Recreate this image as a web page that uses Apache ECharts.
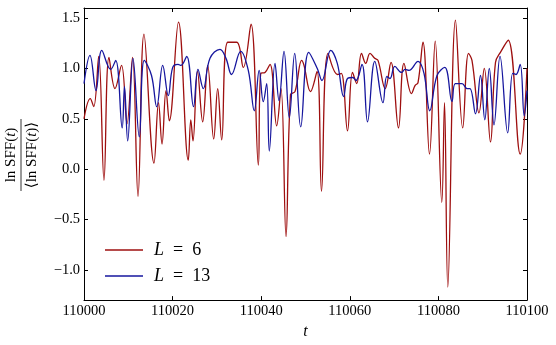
<!DOCTYPE html>
<html>
<head>
<meta charset="utf-8">
<script src="https://cdn.jsdelivr.net/npm/echarts@6/dist/echarts.min.js"></script>
<style>
  html, body { margin: 0; padding: 0; background: #fff; }
  #chart { width: 556px; height: 345px; }
</style>
</head>
<body>
<div id="chart"></div>
<script>
// axis ticks
const xTicks = [110000, 110020, 110040, 110060, 110080, 110100];
const yTicks = [-1.0, -0.5, 0.0, 0.5, 1.0, 1.5];
const seriesNames = ['L = 6', 'L = 13'];

// L = 6 (red)
const tL6 = [
  110000, 110001.42, 110002.19, 110003.32, 110004.51, 110005.64, 110007.00, 110008.47, 110009.71, 110010.95,
  110012.19, 110013.54, 110015.80, 110016.82, 110017.61, 110018.51, 110019.26, 110021.33, 110023.54, 110024.11,
  110024.60, 110025.62, 110026.79, 110027.92, 110029.28, 110030.18, 110031.08, 110032.44, 110034.47, 110035.96,
  110037.70, 110039.35, 110039.89, 110040.86, 110041.99, 110043.50, 110044.47, 110045.60, 110046.61, 110047.63,
  110049.14, 110049.66, 110051.13, 110052.60, 110053.61, 110055.08, 110057.22, 110058.08, 110059.48, 110060.61,
  110061.56, 110062.64, 110063.59, 110064.56, 110065.62, 110066.37, 110067.99, 110069.30, 110070.99, 110072.23,
  110073.93, 110074.72, 110075.40, 110076.52, 110077.99, 110079.28, 110080.77, 110081.38, 110082.12, 110083.86,
  110085.49, 110086.79, 110087.58, 110089.16, 110090.36, 110091.76, 110092.89, 110094.13, 110095.76, 110098.46,
  110100
];
const vL6 = [
  0.50, 0.70, 0.62, 1.12, -0.11, 1.11, 0.80, 1.03, 0.45, 1.11,
  -0.27, 1.34, 0.06, 0.66, 0.25, 0.78, 0.48, 1.46, 0.09, 0.49,
  0.28, 0.97, 0.47, 1.03, 0.30, 0.80, 0.29, 1.26, 1.26, 1.01,
  1.44, 0.04, 0.95, 0.96, 1.04, 0.43, 0.80, -0.67, 0.74, 0.77,
  1.08, 1.03, 0.77, 0.97, -0.22, 1.15, 0.94, 0.95, 0.38, 0.96,
  0.85, 1.15, 1.05, 1.15, 1.10, 1.08, 0.80, 1.06, 0.41, 1.05,
  0.75, 0.83, 0.86, 1.26, 0.15, 1.27, -0.33, 0.66, -1.17, 1.48,
  0.41, 1.15, 1.08, 0.56, 1.00, 0.27, 1.06, 1.17, 1.28, 0.15,
  1.00
];

// L = 13 (blue)
const tL13 = [
  110000, 110001.35, 110002.71, 110004.02, 110006.03, 110007.16, 110008.62, 110009.14, 110009.86, 110011.06,
  110012.48, 110013.61, 110015.24, 110016.41, 110017.77, 110019.03, 110020.02, 110021.22, 110021.90, 110023.18,
  110024.72, 110025.73, 110026.93, 110028.44, 110030.70, 110032.05, 110033.30, 110035.37, 110037.09, 110038.44,
  110039.55, 110040.47, 110041.24, 110041.83, 110043.12, 110044.02, 110045.15, 110046.34, 110047.56, 110048.92,
  110050.72, 110052.66, 110053.72, 110055.69, 110057.18, 110058.62, 110059.48, 110060.68, 110061.40, 110062.75,
  110064.00, 110065.64, 110067.49, 110068.35, 110069.07, 110070.16, 110071.67, 110072.46, 110073.36, 110075.40,
  110076.75, 110078.06, 110079.68, 110081.44, 110083.07, 110083.81, 110085.33, 110086.46, 110087.13, 110088.37,
  110089.50, 110090.47, 110091.49, 110092.55, 110093.91, 110095.64, 110096.77, 110097.52, 110098.46, 110099.37,
  110100
];
const vL13 = [
  0.85, 1.13, 0.78, 1.18, 0.99, 1.08, 0.41, 0.82, 0.28, 1.10,
  0.32, 1.08, 0.93, 0.62, 1.03, 0.73, 1.01, 1.04, 1.03, 1.12,
  0.62, 0.99, 0.80, 1.10, 1.19, 1.10, 0.94, 1.17, 0.98, 0.58,
  0.98, 0.67, 0.85, 0.18, 1.05, 0.68, 1.17, 0.51, 1.15, 0.42,
  1.16, 1.00, 0.88, 1.18, 1.05, 0.72, 0.90, 0.91, 0.88, 1.04,
  0.47, 1.07, 0.66, 0.92, 0.90, 1.02, 0.96, 0.99, 0.98, 1.07,
  0.95, 0.58, 0.93, 1.01, 0.67, 0.85, 0.85, 0.80, 0.80, 0.55,
  0.93, 0.49, 1.00, 0.44, 1.12, 0.36, 0.95, 0.94, 1.04, 0.53,
  0.78
];

const SERIF = '"Liberation Serif", "DejaVu Serif", serif';
const RED = '#9e0f0f';
const BLUE = '#16169e';

function pairs(ts, vs) {
  return ts.map((t, i) => [t, vs[i]]);
}

const isYTick = (v) => yTicks.some((t) => Math.abs(t - v) < 1e-6);
const fmtY = (v) => (isYTick(v) ? v.toFixed(1).replace('-', '\u2212') : '');

// shared tick setup for the four sides of the frame
function xAxisCfg(pos, labels) {
  return {
    type: 'value',
    position: pos,
    min: xTicks[0],
    max: xTicks[xTicks.length - 1],
    interval: xTicks[1] - xTicks[0],
    axisLine: { show: true, onZero: false, lineStyle: { color: '#000', width: 1 } },
    axisTick: { show: true, inside: true, length: 4, lineStyle: { color: '#000' } },
    axisLabel: {
      show: labels, margin: 4, color: '#000', fontFamily: SERIF, fontSize: 14.5,
      formatter: (v) => String(v)
    },
    splitLine: { show: false }
  };
}

// no interval here: min is -1.3, so ticks are left to the nice-step logic
function yAxisCfg(pos, labels) {
  return {
    type: 'value',
    position: pos,
    min: -1.3,
    max: 1.6,
    splitNumber: 6,
    axisLine: { show: true, onZero: false, lineStyle: { color: '#000', width: 1 } },
    axisTick: { show: true, inside: true, length: 4, lineStyle: { color: '#000' } },
    axisLabel: {
      show: labels, margin: 4, color: '#000', fontFamily: SERIF, fontSize: 14.5,
      showMinLabel: false, showMaxLabel: false,
      formatter: fmtY
    },
    splitLine: { show: false }
  };
}

const xBottom = xAxisCfg('bottom', true);
xBottom.name = 't';
xBottom.nameLocation = 'middle';
xBottom.nameGap = 22;
xBottom.nameTextStyle = { fontFamily: SERIF, fontStyle: 'italic', fontSize: 16, color: '#000' };

const option = {
  animation: false,
  backgroundColor: '#fff',
  grid: { left: 84, right: 29, top: 8, bottom: 43, containLabel: false },
  xAxis: [xBottom, xAxisCfg('top', false)],
  yAxis: [yAxisCfg('left', true), yAxisCfg('right', false)],
  legend: {
    orient: 'vertical',
    left: 100,
    top: 236,
    itemWidth: 38,
    itemHeight: 1.6,
    itemGap: 8,
    icon: 'rect',
    data: seriesNames,
    // italic L, wider gaps round the equals sign
    formatter: (name) => '{i|L}{r|\u2002=\u2002' + name.split('= ')[1] + '}',
    textStyle: {
      padding: [0, 0, 0, 6],
      lineHeight: 18,
      rich: {
        i: { fontFamily: SERIF, fontStyle: 'italic', fontSize: 18, color: '#000' },
        r: { fontFamily: SERIF, fontSize: 18, color: '#000' }
      }
    }
  },
  graphic: [{
    type: 'group',
    x: 21,
    y: 155,
    rotation: Math.PI / 2,
    children: [
      {
        type: 'text',
        x: 0, y: -10,
        style: {
          text: '{r|ln SFF(}{i|t}{r|)}',
          align: 'center', verticalAlign: 'middle',
          rich: {
            r: { fontFamily: SERIF, fontSize: 15, fill: '#000' },
            i: { fontFamily: SERIF, fontStyle: 'italic', fontSize: 15, fill: '#000' }
          }
        }
      },
      {
        type: 'line',
        shape: { x1: -36, y1: 0, x2: 36, y2: 0 },
        style: { stroke: '#000', lineWidth: 0.8 }
      },
      {
        type: 'text',
        x: 0, y: 11,
        style: {
          text: '{r|\u27E8ln SFF(}{i|t}{r|)\u27E9}',
          align: 'center', verticalAlign: 'middle',
          rich: {
            r: { fontFamily: SERIF, fontSize: 15, fill: '#000' },
            i: { fontFamily: SERIF, fontStyle: 'italic', fontSize: 15, fill: '#000' }
          }
        }
      }
    ]
  }],
  series: [
    {
      name: seriesNames[0],
      type: 'line',
      data: pairs(tL6, vL6),
      symbol: 'none',
      smooth: 0.4,
      lineStyle: { color: RED, width: 1.3 },
      itemStyle: { color: RED }
    },
    {
      name: seriesNames[1],
      type: 'line',
      data: pairs(tL13, vL13),
      symbol: 'none',
      smooth: 0.4,
      lineStyle: { color: BLUE, width: 1.3 },
      itemStyle: { color: BLUE }
    }
  ]
};

const chart = echarts.init(document.getElementById('chart'), null, { renderer: 'canvas' });
chart.setOption(option);
</script>
</body>
</html>
